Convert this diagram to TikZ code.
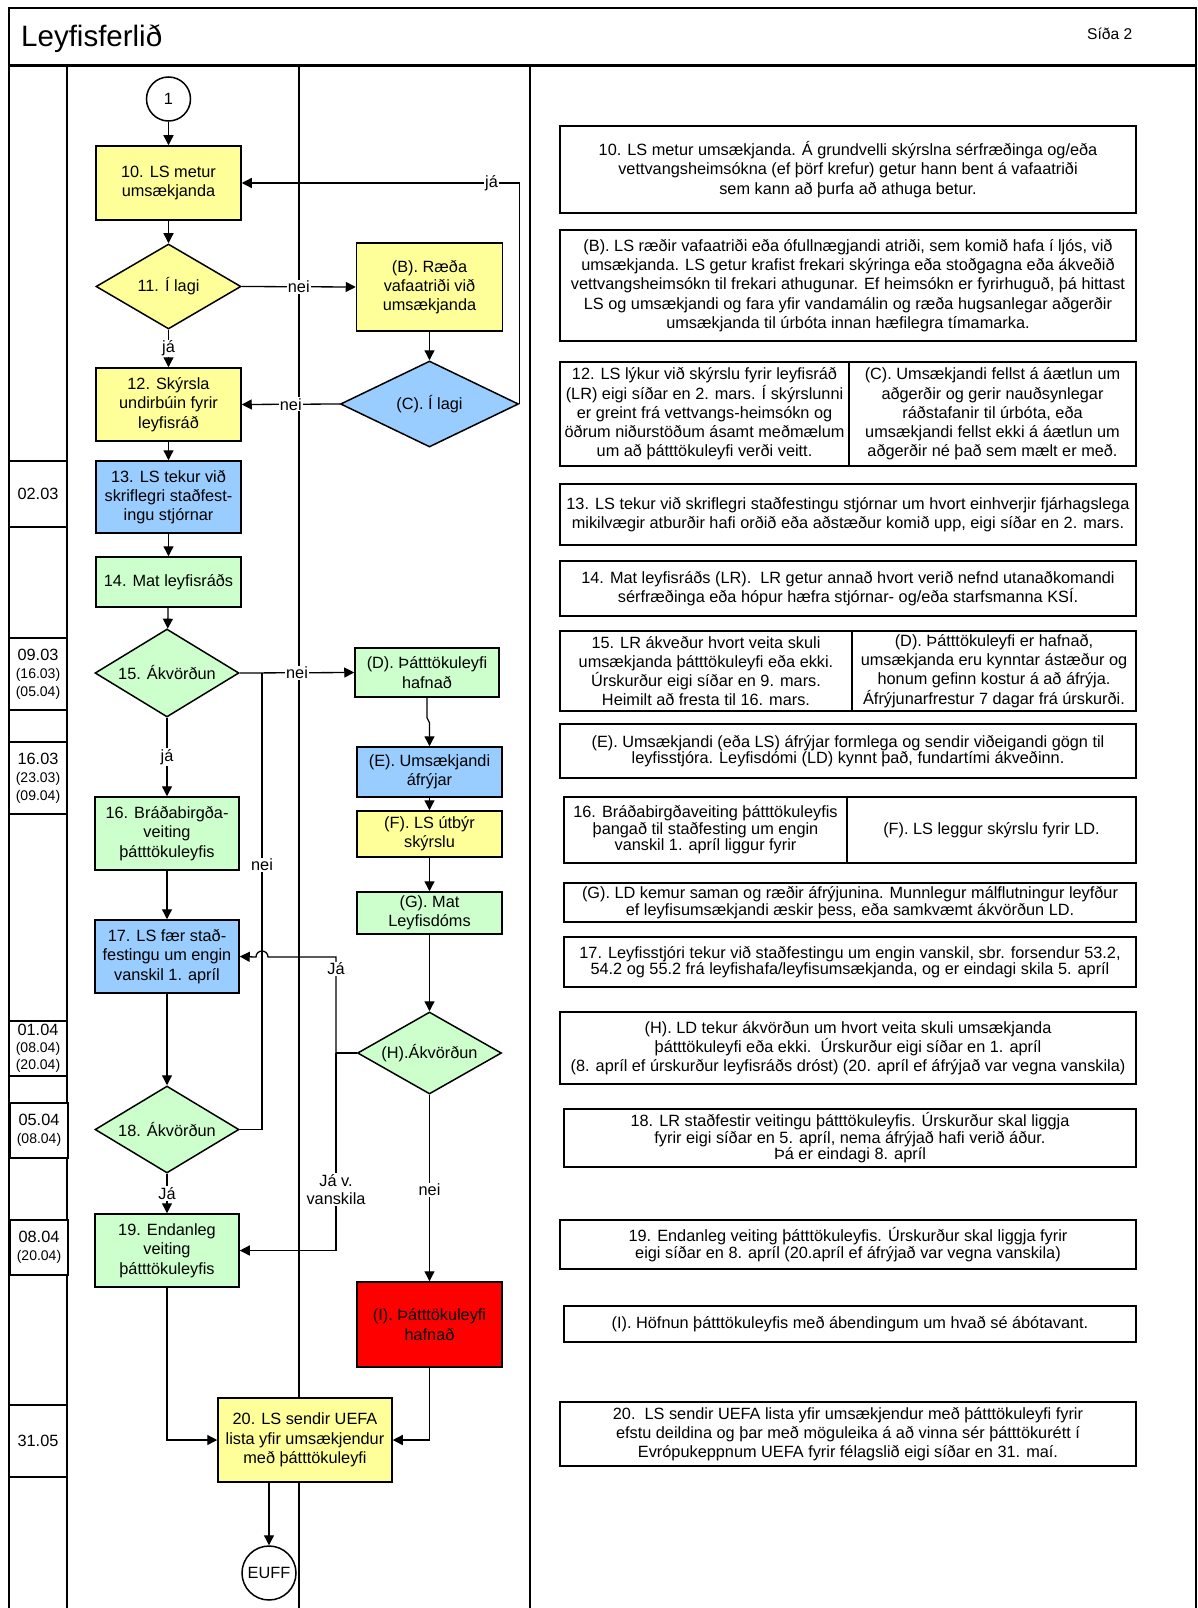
\documentclass[tikz,border=0pt]{standalone}
\usepackage{fontspec}
\setmainfont{Liberation Sans}
\usetikzlibrary{shapes.geometric,arrows.meta}
\definecolor{cyel}{HTML}{FFFF99}
\definecolor{cblue}{HTML}{99CCFF}
\definecolor{cgreen}{HTML}{CCFFCC}
\definecolor{cred}{HTML}{FF0000}
\newcommand{\fsN}{\fontsize{16.3}{19.3}\selectfont}
\newcommand{\fsT}{\fontsize{16.3}{16.4}\selectfont}
\newcommand{\fsS}{\fontsize{14}{18}\selectfont}
\newcommand{\fsSt}{\fontsize{14}{17}\selectfont}
\newcommand{\fsD}{\fontsize{16.3}{18}\selectfont}
\tikzset{
  lane/.style={line width=1.8pt},
  nbase/.style={draw, line width=1.5pt, align=center, inner sep=0pt, font=\fsN},
  proc/.style n args={3}{nbase, rectangle, minimum width=#1, minimum height=#2, fill=#3},
  dec/.style n args={3}{nbase, diamond, aspect=2, minimum width=#1, minimum height=#2, fill=#3},
  term/.style={nbase, circle, fill=white},
  conn/.style={line width=1.3pt, -{Triangle[length=10pt,width=10pt]}},
  wire/.style={line width=1.3pt},
  lbl/.style={fill=white, inner sep=1.2pt, font=\fsN, align=center},
  tbox/.style 2 args={draw, line width=1.4pt, align=center, inner sep=0pt, minimum width=#1, minimum height=#2, font=\fsN, fill=white},
  tightfont/.style={font=\fsT},
  cell/.style 2 args={draw, line width=1.4pt, fill=white, align=center, inner sep=0pt, minimum width=#1, minimum height=#2, font=\fsS},
}
\begin{document}
\begin{tikzpicture}[x=1pt,y=-1pt]
\useasboundingbox (0,0) rectangle (1197,1608);
% frame and lanes
\draw[lane] (9,1608) -- (9,8) -- (1196,8) -- (1196,1608);
\draw[line width=2.4pt] (9,65.5) -- (1196,65.5);
\draw[lane] (67,65.5) -- (67,1608);
\draw[lane] (299,65.5) -- (299,1608);
\draw[lane] (530,65.5) -- (530,1608);
\node[anchor=base west, font=\fontsize{29.5}{32}\selectfont, inner sep=0pt] (title) at (21,46.7) {Leyfisferlið};
\node[anchor=base west, font=\fontsize{15.6}{18}\selectfont, inner sep=0pt] (page) at (1087,40) {Síða 2};

% date cells
\node[cell={58pt}{66pt}] (d1) at (38,494) {{\fsD 02.03}};
\node[cell={58pt}{72pt}] (d2) at (38,674) {{\fsD 09.03}\\(16.03)\\(05.04)};
\node[cell={58pt}{72pt}] (d3) at (38,778) {{\fsD 16.03}\\(23.03)\\(09.04)};
\node[cell={58pt}{55pt}, font=\fsSt] (d4) at (38,1048.5) {{\fontsize{16.3}{17}\selectfont 01.04}\\(08.04)\\(20.04)};
\node[cell={58pt}{55pt}] (d5) at (39,1130.5) {{\fsD 05.04}\\(08.04)};
\node[cell={58pt}{55pt}] (d6) at (39,1247.5) {{\fsD 08.04}\\(20.04)};
\node[cell={58pt}{72pt}] (d7) at (38,1441) {{\fsD 31.05}};

% flow nodes
\node[term, minimum size=44pt] (c1) at (168.5,99) {1};
\node[proc={145pt}{74pt}{cyel}] (n10) at (168.5,183) {10. LS metur\\umsækjanda};
\node[dec={145pt}{85pt}{cyel}] (n11) at (168.5,286.5) {11. Í lagi};
\node[proc={146pt}{88pt}{cyel}] (nB) at (429.5,287) {(B). Ræða\\vafaatriði við\\umsækjanda};
\node[dec={178pt}{86pt}{cblue}] (nC) at (429.5,404) {(C). Í lagi};
\node[proc={145pt}{73pt}{cyel}] (n12) at (168.5,404.5) {12. Skýrsla\\undirbúin fyrir\\leyfisráð};
\node[proc={145pt}{72pt}{cblue}] (n13) at (168.5,497) {13. LS tekur við\\skriflegri staðfest-\\ingu stjórnar};
\node[proc={145pt}{50pt}{cgreen}] (n14) at (168.5,582) {14. Mat leyfisráðs};
\node[dec={144pt}{88pt}{cgreen}] (n15) at (167,673) {15. Ákvörðun};
\node[proc={144pt}{49pt}{cgreen}] (nD) at (427,672.5) {(D). Þátttökuleyfi\\hafnað};
\node[proc={145pt}{50pt}{cblue}] (nE) at (429.5,772) {(E). Umsækjandi\\áfrýjar};
\node[proc={145pt}{46pt}{cyel}] (nF) at (429.5,834) {(F). LS útbýr\\skýrslu};
\node[proc={144pt}{73pt}{cgreen}] (n16) at (167,833.5) {16. Bráðabirgða-\\veiting\\þátttökuleyfis};
\node[proc={145pt}{42pt}{cgreen}] (nG) at (429.5,913) {(G). Mat\\Leyfisdóms};
\node[proc={144pt}{73pt}{cblue}] (n17) at (167,956.5) {17. LS fær stað-\\festingu um engin\\vanskil 1. apríl};
\node[dec={144pt}{82pt}{cgreen}] (nH) at (429.5,1053) {(H).Ákvörðun};
\node[dec={144pt}{87pt}{cgreen}] (n18) at (167,1129.5) {18. Ákvörðun};
\node[proc={144pt}{73pt}{cgreen}] (n19) at (167,1250.5) {19. Endanleg\\veiting\\þátttökuleyfis};
\node[proc={145pt}{85pt}{cred}] (nI) at (429.5,1324.5) {(I). Þátttökuleyfi\\hafnað};
\node[proc={174pt}{84pt}{cyel}] (n20) at (305,1440) {20. LS sendir UEFA\\lista yfir umsækjendur\\með þátttökuleyfi};
\node[term, minimum size=54pt] (euff) at (269,1573) {EUFF};

% junction coordinates
\coordinate (j1) at (262,673);
\coordinate (hj) at (336,1053);
\coordinate (hk) at (336,957);
\coordinate (hl) at (336,1250.5);

% connectors
\draw[conn] (c1) -- (n10);
\draw[conn] (n10) -- (n11);
\draw[conn] (n11.east) -- (nB.west) node[lbl,pos=0.5] {nei};
\draw[conn] (nB) -- (nC);
\draw[conn] (nC.west) -- (n12.east) node[lbl,pos=0.5] {nei};
\draw[conn] (nC.east) |- (n10.east) node[lbl,pos=0.55] {já};
\draw[conn] (n11) -- (n12) node[lbl,pos=0.5] {já};
\draw[conn] (n12) -- (n13);
\draw[conn] (n13) -- (n14);
\draw[conn] (n14) -- (n15);
\draw[conn] (n15.east) -- (nD.west) node[lbl,pos=0.5] {nei};
\draw[conn] (n15) -- (n16) node[lbl,pos=0.5] {já};
\draw[wire] (n18.east) -| (j1) node[lbl,pos=0.79] {nei};
\draw[conn] (nD.south) -- ++(0,20) -- ++(2.5,5) -- (nE.north);
\draw[conn] (nE) -- (nF);
\draw[conn] (nF) -- (nG);
\draw[conn] (nG) -- (nH);
\draw[conn] (n16) -- (n17);
\draw[wire] (nH.west) -- (hj);
\draw[conn] (hj) -- (hk) node[lbl,pos=0.875] {Já} -- (268,957) arc[start angle=0, end angle=180, radius=6pt] -- (n17.east);
\draw[conn] (hj) -- (hl) node[lbl,pos=0.69, font=\fontsize{16.3}{18}\selectfont] {Já v.\\vanskila} -- (n19.east);
\draw[conn] (n17) -- (n18);
\draw[conn] (n18) -- (n19) node[lbl,pos=0.5] {Já};
\draw[conn] (nH) -- (nI) node[lbl,pos=0.51] {nei};
\draw[conn] (n19.south) |- (n20.west);
\draw[conn] (nI.south) |- (n20.east);
\draw[conn] (euff |- n20.south) -- (euff);

% description boxes
\node[tbox={576pt}{87pt}] (t10) at (848,169.5) {10. LS metur umsækjanda. Á grundvelli skýrslna sérfræðinga og/eða\\vettvangsheimsókna (ef þörf krefur) getur hann bent á vafaatriði\\sem kann að þurfa að athuga betur.};
\node[tbox={576pt}{111pt}] (tB) at (848,285.5) {(B). LS ræðir vafaatriði eða ófullnægjandi atriði, sem komið hafa í ljós, við\\umsækjanda. LS getur krafist frekari skýringa eða stoðgagna eða ákveðið\\vettvangsheimsókn til frekari athugunar. Ef heimsókn er fyrirhuguð, þá hittast\\LS og umsækjandi og fara yfir vandamálin og ræða hugsanlegar aðgerðir\\umsækjanda til úrbóta innan hæfilegra tímamarka.};
\node[tbox={289pt}{104pt}] (t12) at (704.5,414) {12. LS lýkur við skýrslu fyrir leyfisráð\\(LR) eigi síðar en 2. mars. Í skýrslunni\\er greint frá vettvangs-heimsókn og\\öðrum niðurstöðum ásamt meðmælum\\um að þátttökuleyfi verði veitt.};
\node[tbox={287pt}{104pt}] (tC) at (992.5,414) {(C). Umsækjandi fellst á áætlun um\\aðgerðir og gerir nauðsynlegar\\ráðstafanir til úrbóta, eða\\umsækjandi fellst ekki á áætlun um\\aðgerðir né það sem mælt er með.};
\node[tbox={576pt}{61pt}] (t13) at (848,514.5) {13. LS tekur við skriflegri staðfestingu stjórnar um hvort einhverjir fjárhagslega\\mikilvægir atburðir hafi orðið eða aðstæður komið upp, eigi síðar en 2. mars.};
\node[tbox={576pt}{55pt}] (t14) at (848,588.5) {14. Mat leyfisráðs (LR).\ \ LR getur annað hvort verið nefnd utanaðkomandi\\sérfræðinga eða hópur hæfra stjórnar- og/eða starfsmanna KSÍ.};
\node[tbox={292pt}{80pt}] (t15) at (706,671) {15. LR ákveður hvort veita skuli\\umsækjanda þátttökuleyfi eða ekki.\\Úrskurður eigi síðar en 9. mars.\\Heimilt að fresta til 16. mars.};
\node[tbox={284pt}{80pt}] (tD) at (994,671) {(D). Þátttökuleyfi er hafnað,\\umsækjanda eru kynntar ástæður og\\honum gefinn kostur á að áfrýja.\\Áfrýjunarfrestur 7 dagar frá úrskurði.};
\node[tbox={576pt}{54pt}, tightfont] (tE) at (848,751) {(E). Umsækjandi (eða LS) áfrýjar formlega og sendir viðeigandi gögn til\\leyfisstjóra. Leyfisdómi (LD) kynnt það, fundartími ákveðinn.};
\node[tbox={283pt}{66pt}, tightfont] (t16) at (705.5,830) {16. Bráðabirgðaveiting þátttökuleyfis\\þangað til staðfesting um engin\\vanskil 1. apríl liggur fyrir};
\node[tbox={289pt}{66pt}] (tF) at (991.5,830) {(F). LS leggur skýrslu fyrir LD.};
\node[tbox={572pt}{39pt}, tightfont] (tG) at (850,902.5) {(G). LD kemur saman og ræðir áfrýjunina. Munnlegur málflutningur leyfður\\ef leyfisumsækjandi æskir þess, eða samkvæmt ákvörðun LD.};
\node[tbox={572pt}{50pt}, tightfont] (t17) at (850,962) {17. Leyfisstjóri tekur við staðfestingu um engin vanskil, sbr. forsendur 53.2,\\54.2 og 55.2 frá leyfishafa/leyfisumsækjanda, og er eindagi skila 5. apríl};
\node[tbox={576pt}{72pt}] (tH) at (848,1048) {(H). LD tekur ákvörðun um hvort veita skuli umsækjanda\\þátttökuleyfi eða ekki.\ \ Úrskurður eigi síðar en 1. apríl\\(8. apríl ef úrskurður leyfisráðs dróst) (20. apríl ef áfrýjað var vegna vanskila)};
\node[tbox={572pt}{58pt}, tightfont] (t18) at (850,1138) {18. LR staðfestir veitingu þátttökuleyfis. Úrskurður skal liggja\\fyrir eigi síðar en 5. apríl, nema áfrýjað hafi verið áður.\\Þá er eindagi 8. apríl};
\node[tbox={576pt}{49pt}, tightfont] (t19) at (848,1244.5) {19. Endanleg veiting þátttökuleyfis. Úrskurður skal liggja fyrir\\eigi síðar en 8. apríl (20.apríl ef áfrýjað var vegna vanskila)};
\node[tbox={572pt}{36pt}] (tI) at (850,1324) {(I). Höfnun þátttökuleyfis með ábendingum um hvað sé ábótavant.};
\node[tbox={576pt}{64pt}] (t20) at (848,1434) {20.\ \ LS sendir UEFA lista yfir umsækjendur með þátttökuleyfi fyrir\\efstu deildina og þar með möguleika á að vinna sér þátttökurétt í\\Evrópukeppnum UEFA fyrir félagslið eigi síðar en 31. maí.};
\end{tikzpicture}
\end{document}
